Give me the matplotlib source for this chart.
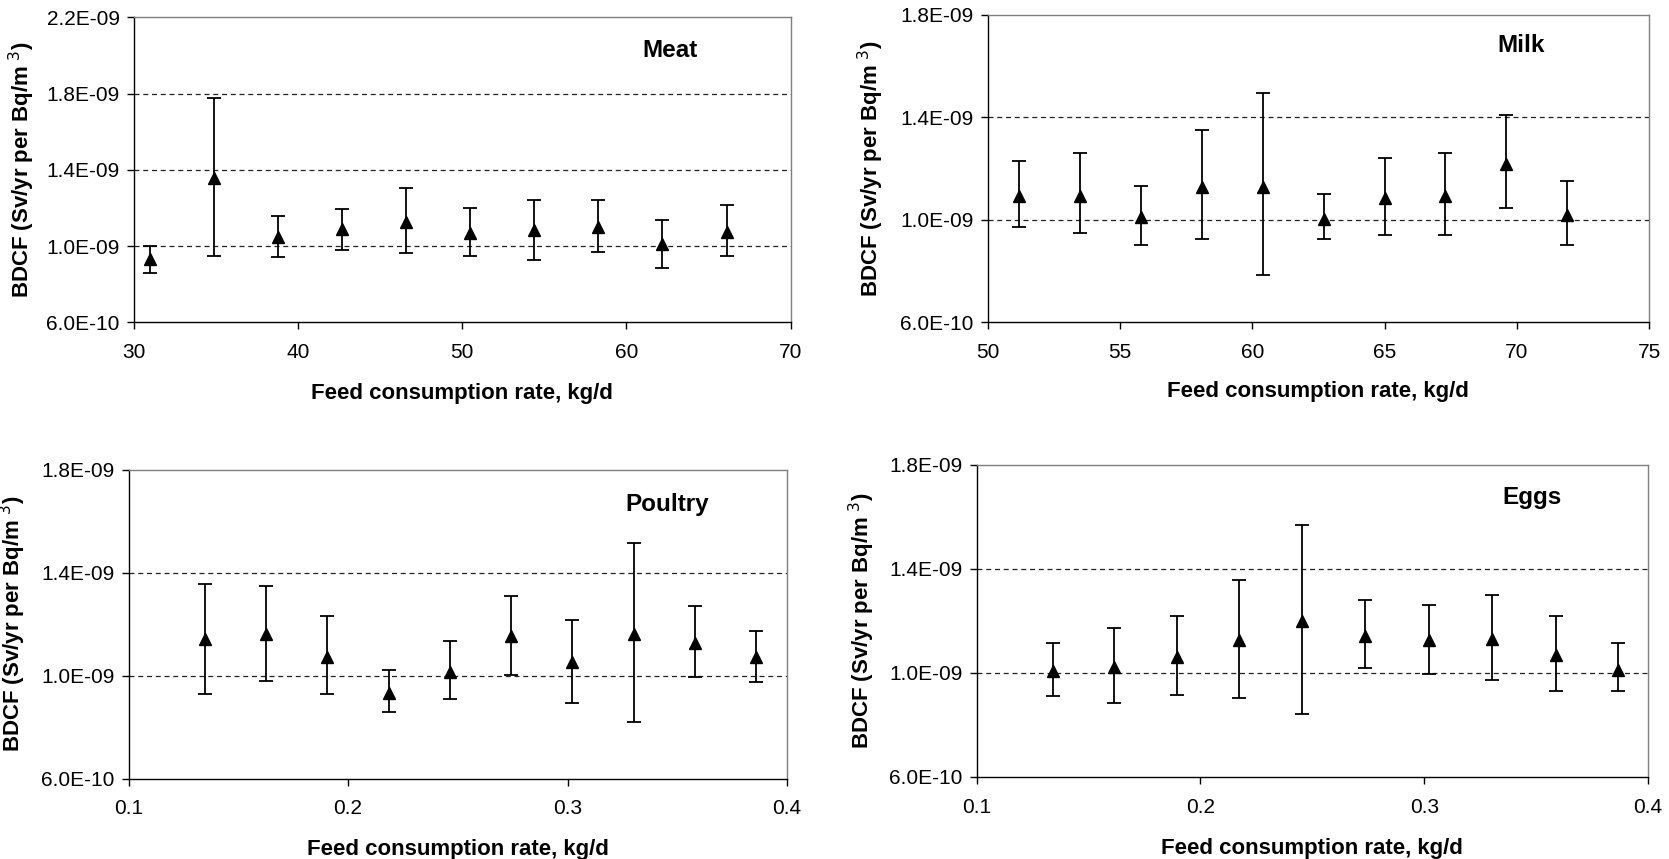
import matplotlib
matplotlib.use("Agg")
import matplotlib.pyplot as plt
from matplotlib.ticker import FuncFormatter

plt.rcParams['font.family'] = ['Liberation Sans', 'DejaVu Sans']

# values, BDCF in units of 1E-09
meat_x = [31.0, 34.9, 38.8, 42.7, 46.6, 50.5, 54.4, 58.3, 62.2, 66.1]
meat_y = [0.933, 1.36, 1.049, 1.091, 1.126, 1.07, 1.084, 1.102, 1.009, 1.075]
meat_hi = [1.0, 1.775, 1.161, 1.196, 1.305, 1.2, 1.244, 1.242, 1.14, 1.214]
meat_lo = [0.86, 0.951, 0.942, 0.982, 0.965, 0.947, 0.928, 0.97, 0.884, 0.951]

milk_x = [51.2, 53.5, 55.8, 58.1, 60.4, 62.7, 65.0, 67.3, 69.6, 71.9]
milk_y = [1.094, 1.094, 1.013, 1.13, 1.13, 1.005, 1.085, 1.094, 1.218, 1.02]
milk_hi = [1.229, 1.261, 1.134, 1.351, 1.495, 1.103, 1.242, 1.261, 1.408, 1.153]
milk_lo = [0.974, 0.951, 0.904, 0.925, 0.785, 0.925, 0.941, 0.943, 1.047, 0.904]

poultry_x = [0.1348, 0.1627, 0.1906, 0.2185, 0.2464, 0.2743, 0.3022, 0.3301, 0.358, 0.3859]
poultry_y = [1.141, 1.161, 1.074, 0.934, 1.013, 1.154, 1.054, 1.161, 1.126, 1.071]
poultry_hi = [1.357, 1.350, 1.231, 1.022, 1.134, 1.311, 1.215, 1.516, 1.272, 1.175]
poultry_lo = [0.929, 0.981, 0.929, 0.857, 0.908, 1.001, 0.895, 0.818, 0.994, 0.974]

eggs_x = [0.1343, 0.1616, 0.1897, 0.2173, 0.2456, 0.2736, 0.3019, 0.3302, 0.3588, 0.3866]
eggs_y = [1.006, 1.024, 1.063, 1.127, 1.201, 1.143, 1.127, 1.132, 1.069, 1.013]
eggs_hi = [1.114, 1.174, 1.220, 1.356, 1.568, 1.280, 1.262, 1.300, 1.220, 1.114]
eggs_lo = [0.912, 0.886, 0.917, 0.905, 0.844, 1.018, 0.995, 0.974, 0.931, 0.931]

meat_xticks = [30, 40, 50, 60, 70]
milk_xticks = [50, 55, 60, 65, 70, 75]
feed_xticks = [0.1, 0.2, 0.3, 0.4]
meat_yticks = [0.6, 1.0, 1.4, 1.8, 2.2]
other_yticks = [0.6, 1.0, 1.4, 1.8]


def draw_panel(fig, rect, title, x, y, lo, hi, xticks, yticks, xfmt, title_pos, ylab_x, xlab_y):
    ax = fig.add_axes(rect)
    ys = [v * 1e-9 for v in y]
    err_lo = [(v - l) * 1e-9 for v, l in zip(y, lo)]
    err_hi = [(h - v) * 1e-9 for v, h in zip(y, hi)]
    ax.errorbar(x, ys, yerr=[err_lo, err_hi], fmt='^', color='black', ms=9,
                ecolor='black', elinewidth=1.3, capsize=5, capthick=1.3, zorder=3)

    ax.set_xlim(xticks[0], xticks[-1])
    ax.set_ylim(yticks[0] * 1e-9, yticks[-1] * 1e-9)
    ax.set_xticks(xticks)
    ax.set_yticks([t * 1e-9 for t in yticks])
    ax.xaxis.set_major_formatter(FuncFormatter(xfmt))
    ax.yaxis.set_major_formatter(FuncFormatter(lambda v, p: f"{v:.1E}"))

    # dashed gridlines only inside the frame
    for t in yticks[1:]:
        if t < yticks[-1]:
            ax.axhline(t * 1e-9, color='#222222', lw=0.9, ls=(0, (4, 3)), zorder=1)

    ax.tick_params(axis='both', direction='out', length=5, width=1, labelsize=15)
    ax.tick_params(axis='y', pad=5)
    ax.tick_params(axis='x', pad=10)
    for side in ['left', 'bottom']:
        ax.spines[side].set_color('black')
        ax.spines[side].set_linewidth(1.0)
    for side in ['top', 'right']:
        ax.spines[side].set_color('#7f7f7f')
        ax.spines[side].set_linewidth(1.0)

    ax.set_ylabel('BDCF (Sv/yr per Bq/m$^{\\ 3}$)', fontsize=16, fontweight='bold')
    ax.set_xlabel('Feed consumption rate, kg/d', fontsize=16, fontweight='bold')
    ax.yaxis.set_label_coords(ylab_x, 0.5)
    ax.xaxis.set_label_coords(0.5, xlab_y)
    ax.text(title_pos[0], title_pos[1], title, transform=ax.transAxes,
            fontsize=17.5, fontweight='bold', ha='center', va='center')
    return ax


def fmt_int(v, p):
    return f"{v:.0f}"


def fmt_one(v, p):
    return f"{v:.1f}"


fig = plt.figure(figsize=(16.69, 8.59), dpi=100)

draw_panel(fig, [0.0800, 0.6246, 0.3937, 0.3551], 'Meat', meat_x, meat_y, meat_lo, meat_hi,
           meat_xticks, meat_yticks, fmt_int, (0.817, 0.893), -0.147, -0.2)
draw_panel(fig, [0.5917, 0.6246, 0.3965, 0.3580], 'Milk', milk_x, milk_y, milk_lo, milk_hi,
           milk_xticks, other_yticks, fmt_int, (0.807, 0.90), -0.154, -0.19)
draw_panel(fig, [0.0770, 0.0937, 0.3946, 0.3592], 'Poultry', poultry_x, poultry_y, poultry_lo, poultry_hi,
           feed_xticks, other_yticks, fmt_one, (0.818, 0.887), -0.153, -0.195)
draw_panel(fig, [0.5851, 0.0955, 0.4024, 0.3632], 'Eggs', eggs_x, eggs_y, eggs_lo, eggs_hi,
           feed_xticks, other_yticks, fmt_one, (0.827, 0.895), -0.148, -0.195)

fig.savefig('out.png', dpi=100)
